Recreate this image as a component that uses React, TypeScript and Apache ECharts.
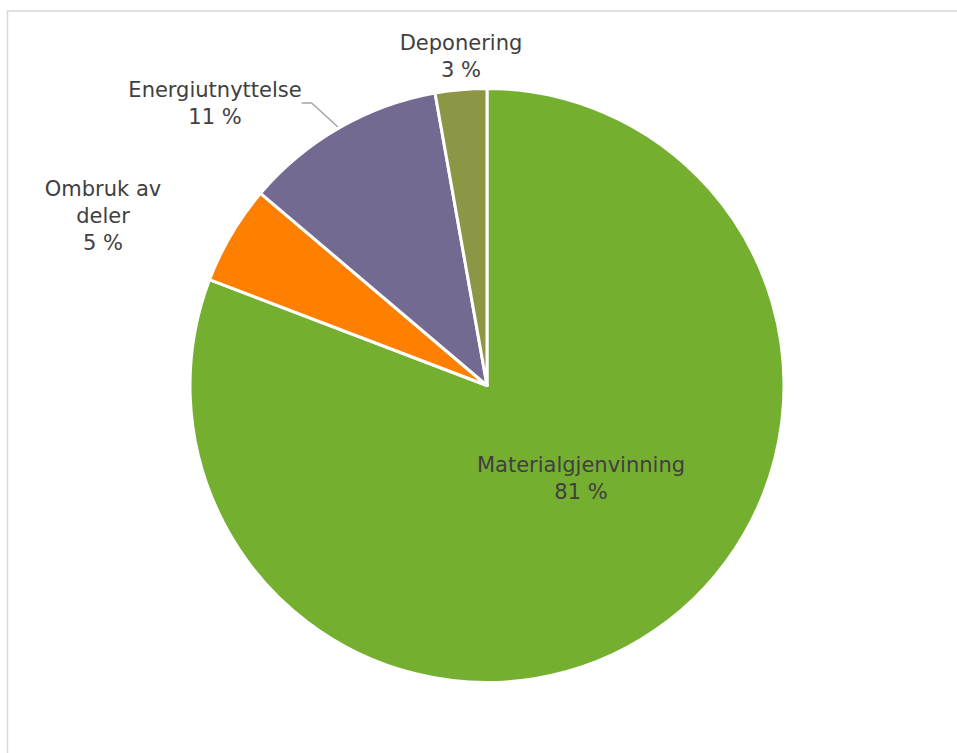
import React, { useEffect, useRef } from "react";
import * as echarts from "echarts";

const categories = ["Materialgjenvinning", "Ombruk av\ndeler", "Energiutnyttelse", "Deponering"];
const values = [80.8, 5.4, 11.0, 2.8];
const colors = ["#75AF30", "#FF7F00", "#736A91", "#8C9645"];
const labelCenters: [number, number][] = [
  [581, 478],
  [103, 216],
  [215, 103],
  [461, 56],
];

export default function App() {
  const ref = useRef<HTMLDivElement>(null);
  useEffect(() => {
    document.body.style.margin = "0";
    const chart = echarts.init(ref.current!, null, { renderer: "svg" });
    chart.setOption({
      animation: false,
      backgroundColor: "#ffffff",
      graphic: [
        {
          type: "rect",
          shape: { x: 7.5, y: 11, width: 1200, height: 1000 },
          style: { fill: "none", stroke: "#D9D9D9", lineWidth: 1.5 },
          silent: true,
        },
      ],
      series: [
        {
          type: "pie",
          center: [487, 385.5],
          radius: 297,
          startAngle: 90,
          clockwise: true,
          itemStyle: { borderColor: "#ffffff", borderWidth: 3 },
          label: {
            show: true,
            position: "outside",
            fontFamily: "DejaVu Sans",
            fontSize: 21,
            color: "#404040",
            lineHeight: 27,
            align: "center",
            formatter: (p: any) => `${p.name}\n${Math.round(p.percent)} %`,
          },
          labelLine: { show: false, lineStyle: { color: "#A6A6A6", width: 1.5 }, length: 10, length2: 10 },
          labelLayout: (p: any) => {
            const c = labelCenters[p.dataIndex];
            return { x: c[0], y: c[1], align: "center", verticalAlign: "middle" };
          },
          emphasis: { disabled: true },
          data: categories.map((name, i) => ({
            name,
            value: values[i],
            itemStyle: { color: colors[i] },
            labelLine: { show: i === 2 },
          })),
        },
      ],
    });
    return () => chart.dispose();
  }, []);
  return <div ref={ref} style={{ width: 957, height: 753 }} />;
}
